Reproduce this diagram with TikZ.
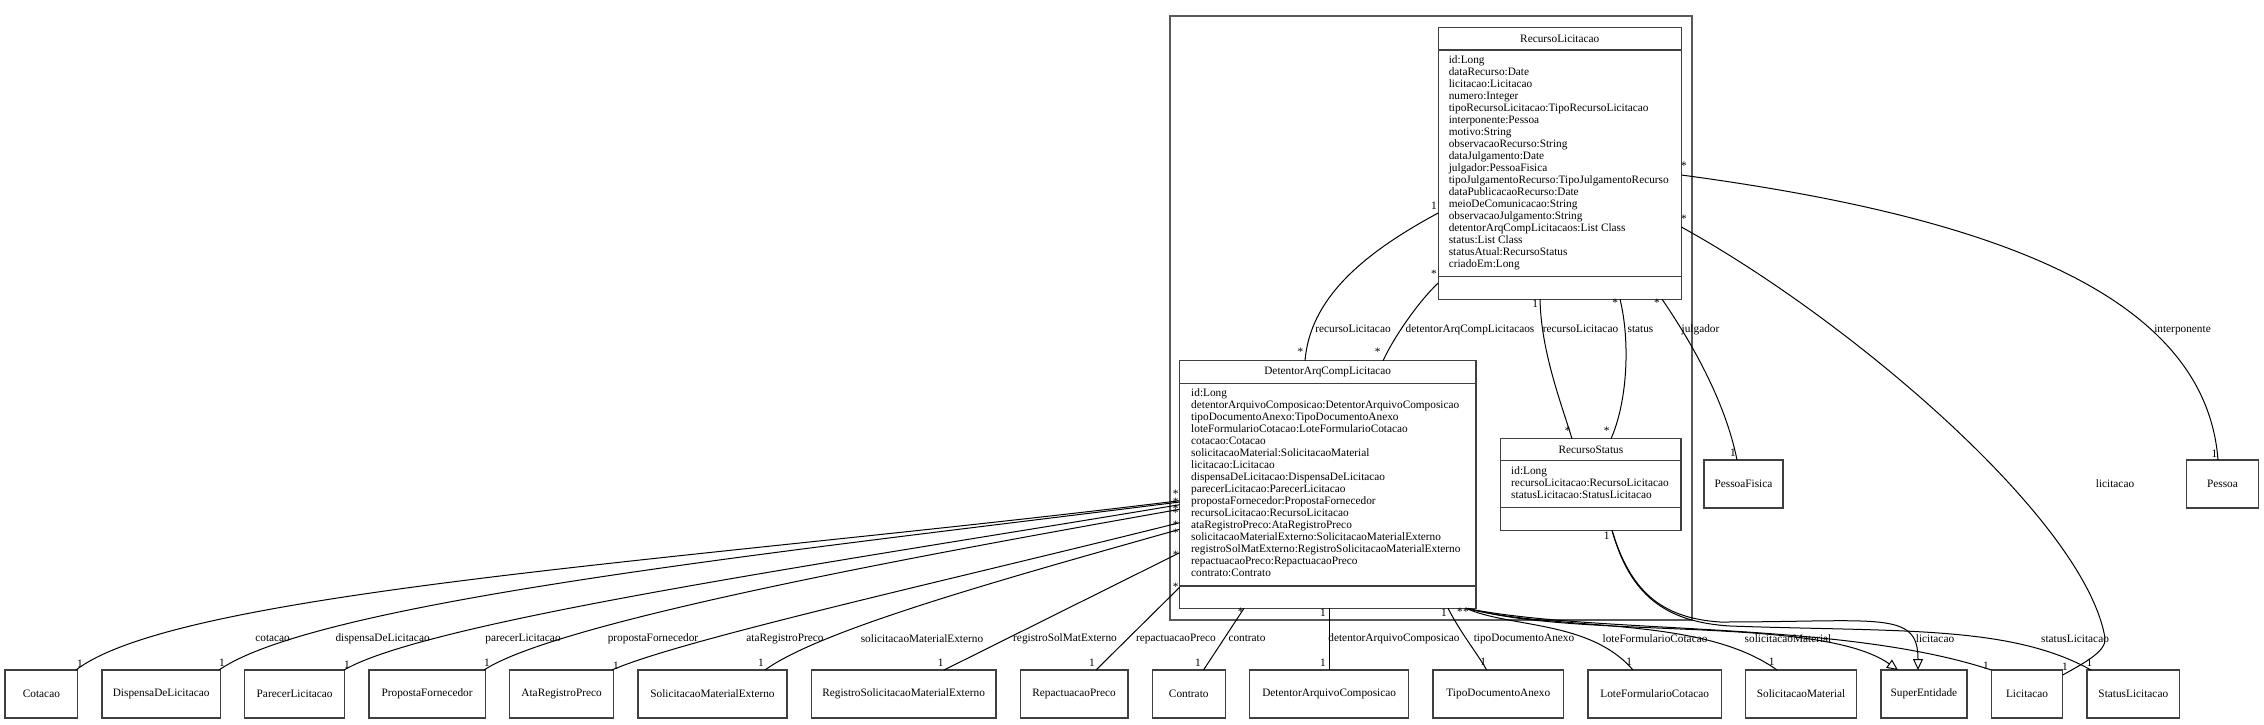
\documentclass[tikz,border=0pt]{standalone}
\usepackage{fontspec}
\setmainfont{Liberation Serif}
\usepackage{tikz}
\usetikzlibrary{positioning, arrows.meta}

\newcommand{\umlfont}{\fontsize{11.3}{12}\selectfont}

\begin{document}
\begin{tikzpicture}[x=1pt, y=-1pt, node distance=24.3pt]
    \tikzstyle{every node}=[font=\umlfont]
    \tikzset{
      pkg/.style={draw=black!65, line width=2pt, rectangle, anchor=north west, inner sep=0, outer sep=0},
      cls/.style={draw=black!75, line width=1.4pt, rectangle, anchor=north west, inner sep=0, outer sep=0},
      entity/.style={draw=black!75, line width=1.4pt, rectangle, minimum height=48pt, inner sep=0, outer sep=0},
      sep/.style={draw=black!75, line width=1.4pt},
      attrs/.style={anchor=north west, align=left, inner sep=0},
      mult/.style={inner sep=0},
      role/.style={inner sep=0},
      assoc/.style={draw=black, line width=1pt},
      inherit/.style={assoc, -{Triangle[open, length=11pt, width=10pt]}}
    }
    \useasboundingbox (0,0) rectangle (2264,724);

    % package frame
    \node[pkg, minimum width=522.5pt, minimum height=603.8pt] (pkg) at (1169.5,15.7) {};

    % classes with attributes
    \node[cls, minimum width=243.1pt, minimum height=271.5pt] (reclic) at (1438.2,27.7) {};
    \node (reclic-name) at (reclic.north |- 0,38.9) {RecursoLicitacao};
    \draw[sep] (reclic.west |- 0,50) -- (reclic.east |- 0,50);
    \draw[sep] (reclic.west |- 0,276.7) -- (reclic.east |- 0,276.7);
    \node[attrs] (reclic-attrs) at (1448.6,55.9) {id:Long\\dataRecurso:Date\\licitacao:Licitacao\\numero:Integer\\tipoRecursoLicitacao:TipoRecursoLicitacao\\interponente:Pessoa\\motivo:String\\observacaoRecurso:String\\dataJulgamento:Date\\julgador:PessoaFisica\\tipoJulgamentoRecurso:TipoJulgamentoRecurso\\dataPublicacaoRecurso:Date\\meioDeComunicacao:String\\observacaoJulgamento:String\\detentorArqCompLicitacaos:List Class\\status:List Class\\statusAtual:RecursoStatus\\criadoEm:Long};

    \node[cls, minimum width=296.2pt, minimum height=247.6pt] (dac) at (1179.6,360.7) {};
    \node (dac-name) at (dac.north |- 0,372) {DetentorArqCompLicitacao};
    \draw[sep] (dac.west |- 0,383.3) -- (dac.east |- 0,383.3);
    \draw[sep] (dac.west |- 0,586) -- (dac.east |- 0,586);
    \node[attrs] (dac-attrs) at (1191,388.3) {id:Long\\detentorArquivoComposicao:DetentorArquivoComposicao\\tipoDocumentoAnexo:TipoDocumentoAnexo\\loteFormularioCotacao:LoteFormularioCotacao\\cotacao:Cotacao\\solicitacaoMaterial:SolicitacaoMaterial\\licitacao:Licitacao\\dispensaDeLicitacao:DispensaDeLicitacao\\parecerLicitacao:ParecerLicitacao\\propostaFornecedor:PropostaFornecedor\\recursoLicitacao:RecursoLicitacao\\ataRegistroPreco:AtaRegistroPreco\\solicitacaoMaterialExterno:SolicitacaoMaterialExterno\\registroSolMatExterno:RegistroSolicitacaoMaterialExterno\\repactuacaoPreco:RepactuacaoPreco\\contrato:Contrato};

    \node[cls, minimum width=180.3pt, minimum height=91.6pt] (recstatus) at (1500.7,438.7) {};
    \node (recstatus-name) at (recstatus.north |- 0,449.7) {RecursoStatus};
    \draw[sep] (recstatus.west |- 0,460.7) -- (recstatus.east |- 0,460.7);
    \draw[sep] (recstatus.west |- 0,507.7) -- (recstatus.east |- 0,507.7);
    \node[attrs] (recstatus-attrs) at (1511,466) {id:Long\\recursoLicitacao:RecursoLicitacao\\statusLicitacao:StatusLicitacao};

    % plain classes
    \node[entity, minimum width=79pt] (pessoafisica) at (1743.5,484) {PessoaFisica};
    \node[entity, minimum width=72pt] (pessoa) at (2222.5,484) {Pessoa};

    \node[entity, minimum width=72.5pt] (cotacao) at (41.4,694) {Cotacao};
    \node[entity, minimum width=118.4pt, right=of cotacao] (dispensa) {DispensaDeLicitacao};
    \node[entity, minimum width=100pt, right=of dispensa] (parecer) {ParecerLicitacao};
    \node[entity, minimum width=116.3pt, right=of parecer] (proposta) {PropostaFornecedor};
    \node[entity, minimum width=104.1pt, right=of proposta] (ataregistro) {AtaRegistroPreco};
    \node[entity, minimum width=149pt, right=of ataregistro] (solmatext) {SolicitacaoMaterialExterno};
    \node[entity, minimum width=184.7pt, right=of solmatext] (regsolmat) {RegistroSolicitacaoMaterialExterno};
    \node[entity, minimum width=107.7pt, right=of regsolmat] (repactuacao) {RepactuacaoPreco};
    \node[entity, minimum width=73pt, right=of repactuacao] (contrato) {Contrato};
    \node[entity, minimum width=159.2pt, right=of contrato] (detarqcomp) {DetentorArquivoComposicao};
    \node[entity, minimum width=130.6pt, right=of detarqcomp] (tipodoc) {TipoDocumentoAnexo};
    \node[entity, minimum width=133.4pt, right=of tipodoc] (lotecotacao) {LoteFormularioCotacao};
    \node[entity, minimum width=110.9pt, right=of lotecotacao] (solmat) {SolicitacaoMaterial};
    \node[entity, minimum width=86.2pt, right=of solmat] (superentidade) {SuperEntidade};
    \node[entity, minimum width=71.4pt, right=of superentidade] (licitacao) {Licitacao};
    \node[entity, minimum width=92.5pt, right=of licitacao] (statuslic) {StatusLicitacao};

    % RecursoLicitacao associations
    \draw[assoc] (reclic.west |- 0,213) .. controls (1360,255) and (1310,300) .. (dac.north -| 1305,0);
    \draw[assoc] (reclic.west |- 0,283) .. controls (1420,300) and (1395,335) .. (dac.north -| 1383,0);
    \draw[assoc] (reclic.south -| 1540,0) .. controls (1541,350) and (1560,400) .. (recstatus.north -| 1572,0);
    \draw[assoc] (reclic.south -| 1620,0) .. controls (1630,340) and (1628,400) .. (recstatus.north -| 1611,0);
    \draw[assoc] (reclic.south -| 1662,0) .. controls (1690,340) and (1725,400) .. (pessoafisica.north -| 1737,0);
    \draw[assoc] (reclic.east |- 0,175) .. controls (1980,215) and (2205,290) .. (pessoa.north -| 2218,0);
    \draw[assoc] (reclic.east |- 0,227) .. controls (1850,320) and (2085,520) .. (2105,638)
                 .. controls (2107,652) and (2080,665) .. (licitacao.east |- 0,675);

    % DetentorArqCompLicitacao associations
    \draw[assoc] (dac.west |- 0,500.7) .. controls (700,560) and (180,590) .. (cotacao.north -| 76,0);
    \draw[assoc] (dac.west |- 0,502) .. controls (800,550) and (320,600) .. (dispensa.north -| 219,0);
    \draw[assoc] (dac.west |- 0,504.7) .. controls (850,560) and (430,620) .. (parecer.north -| 344,0);
    \draw[assoc] (dac.west |- 0,509.3) .. controls (950,550) and (560,620) .. (proposta.north -| 484,0);
    \draw[assoc] (dac.west |- 0,522.7) .. controls (950,580) and (680,640) .. (ataregistro.north -| 612,0);
    \draw[assoc] (dac.west |- 0,529.3) .. controls (1000,580) and (820,630) .. (solmatext.north -| 765,0);
    \draw[assoc] (dac.west |- 0,552.7) -- (regsolmat.north -| 944,0);
    \draw[assoc] (dac.west |- 0,587.3) -- (repactuacao.north -| 1096,0);
    \draw[assoc] (dac.south -| 1244,0) -- (contrato.north -| 1203.5,0);
    \draw[assoc] (dac.south -| detarqcomp.north) -- (detarqcomp.north);
    \draw[assoc] (dac.south -| 1448,0) .. controls (1462,635) and (1475,650) .. (tipodoc.north -| 1486.7,0);
    \draw[assoc] (dac.south -| 1466,0) .. controls (1510,628) and (1590,620) .. (lotecotacao.north -| 1633,0);
    \draw[assoc] (dac.south -| 1466,0) .. controls (1560,632) and (1700,615) .. (solmat.north -| 1777,0);
    \draw[assoc] (dac.south -| 1466,0) .. controls (1600,635) and (1840,620) .. (licitacao.north west);
    \draw[inherit] (dac.south -| 1468,0) .. controls (1580,640) and (1820,615) .. (superentidade.north -| 1898,0);

    % RecursoStatus
    \draw[inherit] (recstatus.south -| 1612,0) .. controls (1630,590) and (1660,618) .. (1720,622)
                 .. controls (1880,622) and (1918,610) .. (superentidade.north -| 1918,0);
    \draw[assoc] (recstatus.south -| 1612,0) .. controls (1630,595) and (1665,622) .. (1730,626)
                 .. controls (1900,632) and (2010,625) .. (statuslic.north -| 2091,0);

    % multiplicities
    \node[mult] (m-rl-1) at (1434,206) {1};
    \node[mult] (m-rl-2) at (1434,274) {*};
    \node[mult] (m-rl-3) at (1535.3,304) {1};
    \node[mult] (m-rl-4) at (1615.2,302.7) {*};
    \node[mult] (m-rl-5) at (1656.9,302.7) {*};
    \node[mult] (m-rl-6) at (1684,165.7) {*};
    \node[mult] (m-rl-7) at (1684,218.3) {*};
    \node[mult] (m-dac-t1) at (1300.5,351.7) {*};
    \node[mult] (m-dac-t2) at (1377.6,351.7) {*};
    \node[mult] (m-rs-t1) at (1567.7,430.7) {*};
    \node[mult] (m-rs-t2) at (1606.7,430.7) {*};
    \node[mult] (m-rs-b) at (1606.7,536) {1};
    \node[mult] (m-pf) at (1733,453) {1};
    \node[mult] (m-p) at (2214.5,453.3) {1};
    \node[mult] (m-dac-l1) at (1175.7,494) {*};
    \node[mult] (m-dac-l2) at (1175.7,501.7) {*};
    \node[mult] (m-dac-l3) at (1175.7,508.3) {*};
    \node[mult] (m-dac-l4) at (1175.7,512.3) {*};
    \node[mult] (m-dac-l5) at (1175.7,524.3) {*};
    \node[mult] (m-dac-l6) at (1175.7,532.7) {*};
    \node[mult] (m-dac-l7) at (1175.7,555) {*};
    \node[mult] (m-dac-l8) at (1175.7,586.7) {*};
    \node[mult] (m-dac-b1) at (1240.7,612) {*};
    \node[mult] (m-dac-b2) at (1323,613) {1};
    \node[mult] (m-dac-b3) at (1444,612.7) {1};
    \node[mult] (m-dac-b4) at (1460,611.7) {*};
    \node[mult] (m-dac-b5) at (1466,611.7) {*};
    \node[mult] (m-cot) at (80,664) {1};
    \node[mult] (m-dis) at (222,662.7) {1};
    \node[mult] (m-par) at (347,665) {1};
    \node[mult] (m-pro) at (487,663) {1};
    \node[mult] (m-ata) at (616,665.7) {1};
    \node[mult] (m-sme) at (761,662.7) {1};
    \node[mult] (m-rsm) at (940.7,662.7) {1};
    \node[mult] (m-rep) at (1092,662.7) {1};
    \node[mult] (m-con) at (1198,662.7) {1};
    \node[mult] (m-dar) at (1323,662.7) {1};
    \node[mult] (m-tip) at (1483.3,661.7) {1};
    \node[mult] (m-lot) at (1629.3,661.7) {1};
    \node[mult] (m-sol) at (1771.7,661.7) {1};
    \node[mult] (m-lic1) at (1986,665.7) {1};
    \node[mult] (m-lic2) at (2065,666.7) {1};
    \node[mult] (m-sta) at (2089.3,662.7) {1};

    % role names
    \node[role] (r-reclic1) at (1353,329.3) {recursoLicitacao};
    \node[role] (r-detarq) at (1470,329.3) {detentorArqCompLicitacaos};
    \node[role] (r-reclic2) at (1580.5,329.3) {recursoLicitacao};
    \node[role] (r-status) at (1640.5,329.3) {status};
    \node[role] (r-julgador) at (1700.5,330) {julgador};
    \node[role] (r-interp) at (2182.5,330) {interponente};
    \node[role] (r-lic1) at (2115,483.3) {licitacao};
    \node[role] (r-cot) at (272.6,638.7) {cotacao};
    \node[role] (r-dis) at (382.6,638.7) {dispensaDeLicitacao};
    \node[role] (r-par) at (523,638.7) {parecerLicitacao};
    \node[role] (r-pro) at (653,638.7) {propostaFornecedor};
    \node[role] (r-ata) at (785,638.7) {ataRegistroPreco};
    \node[role] (r-sme) at (922,638.7) {solicitacaoMaterialExterno};
    \node[role] (r-rsm) at (1065,638.7) {registroSolMatExterno};
    \node[role] (r-rep) at (1176,638.7) {repactuacaoPreco};
    \node[role] (r-con) at (1247,638.7) {contrato};
    \node[role] (r-dar) at (1394,638.7) {detentorArquivoComposicao};
    \node[role] (r-tip) at (1524,638.7) {tipoDocumentoAnexo};
    \node[role] (r-lot) at (1655,638.7) {loteFormularioCotacao};
    \node[role] (r-sol) at (1788,638.7) {solicitacaoMaterial};
    \node[role] (r-lic2) at (1935,638.7) {licitacao};
    \node[role] (r-sta) at (2075,638.7) {statusLicitacao};
\end{tikzpicture}
\end{document}
